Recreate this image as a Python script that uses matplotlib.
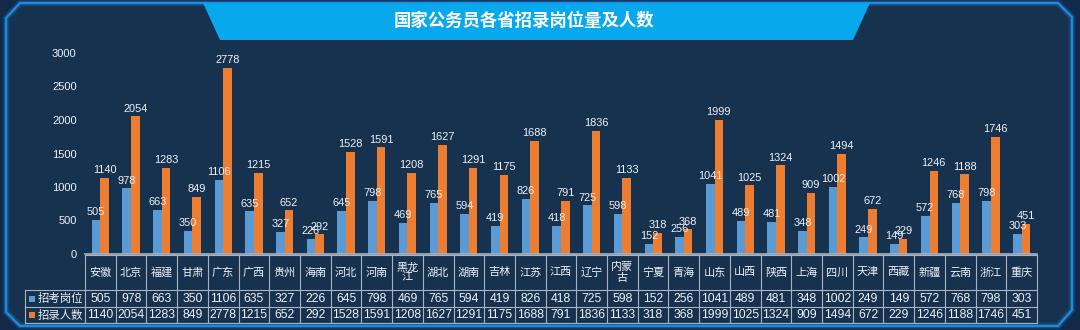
import matplotlib
matplotlib.use("Agg")
import matplotlib.pyplot as plt
from matplotlib.patches import Polygon
import numpy as np

plt.rcParams["font.family"] = ["Noto Sans CJK SC", "DejaVu Sans"]

# 各省数据
provinces = ["安徽", "北京", "福建", "甘肃", "广东", "广西", "贵州", "海南", "河北", "河南",
             "黑龙\n江", "湖北", "湖南", "吉林", "江苏", "江西", "辽宁", "内蒙\n古", "宁夏", "青海",
             "山东", "山西", "陕西", "上海", "四川", "天津", "西藏", "新疆", "云南", "浙江", "重庆"]
posts = [505, 978, 663, 350, 1106, 635, 327, 226, 645, 798,
         469, 765, 594, 419, 826, 418, 725, 598, 152, 256,
         1041, 489, 481, 348, 1002, 249, 149, 572, 768, 798, 303]
hires = [1140, 2054, 1283, 849, 2778, 1215, 652, 292, 1528, 1591,
         1208, 1627, 1291, 1175, 1688, 791, 1836, 1133, 318, 368,
         1999, 1025, 1324, 909, 1494, 672, 229, 1246, 1188, 1746, 451]
series_names = ["招考岗位", "招录人数"]
title = "国家公务员各省招录岗位量及人数"

BG = "#17324f"
BLUE = "#5b9bd5"
ORANGE = "#ed7d31"
GRID = "#a9b3c1"
TXT = "#eef1f5"
NUM_FONT = "Liberation Sans"

W, H = 1080, 330
fig = plt.figure(figsize=(W / 100, H / 100), dpi=100)
fig.patch.set_facecolor("#12294a")

# pixel-space overlay for frame, banner and data table
bg = fig.add_axes([0, 0, 1, 1], zorder=0)
bg.set_xlim(0, W)
bg.set_ylim(H, 0)
bg.axis("off")

frame = [(6, 18), (20, 3), (1058, 3), (1072, 17), (1072, 310),
         (1058, 326), (20, 326), (6, 312)]
bg.add_patch(Polygon(frame, closed=True, facecolor=BG, edgecolor="none"))
for lw, a in [(5, 0.15), (3, 0.3), (1.3, 1.0)]:
    bg.add_patch(Polygon(frame, closed=True, fill=False, edgecolor="#1e90e8",
                         linewidth=lw, alpha=a))

banner = [(203, 3), (870, 3), (853, 40), (220, 40)]
bg.add_patch(Polygon(banner, closed=True, facecolor="#08a9ec", edgecolor="none"))
bg.text(524, 21, title, ha="center", va="center", color="white",
        fontsize=12.5, fontweight="bold")

# bar chart
x0, x1 = 85, 1037
y_zero, y_top = 254, 53
ax = fig.add_axes([x0 / W, 1 - y_zero / H, (x1 - x0) / W, (y_zero - y_top) / H], zorder=2)
ax.set_facecolor("none")
n = len(provinces)
idx = np.arange(n)
bw = 0.28
ax.bar(idx - bw / 2, posts, width=bw, color=BLUE)
ax.bar(idx + bw / 2, hires, width=bw, color=ORANGE)
for i in range(n):
    ax.annotate(str(posts[i]), (idx[i] - bw / 2, posts[i]), xytext=(0, 2),
                textcoords="offset points", ha="center", va="bottom",
                color=TXT, fontsize=7.9, family=NUM_FONT)
    ax.annotate(str(hires[i]), (idx[i] + bw / 2, hires[i]), xytext=(0, 2),
                textcoords="offset points", ha="center", va="bottom",
                color=TXT, fontsize=7.9, family=NUM_FONT)
ax.set_xlim(-0.5, n - 0.5)
ax.set_ylim(0, 3000)
ax.set_yticks(np.arange(0, 3001, 500))
ax.set_xticks([])
ax.tick_params(axis="y", length=0, pad=6, labelcolor=TXT, labelsize=8)
for lab in ax.get_yticklabels():
    lab.set_family(NUM_FONT)
for s in ["top", "right", "left"]:
    ax.spines[s].set_visible(False)
ax.spines["bottom"].set_color(GRID)
ax.spines["bottom"].set_linewidth(1.2)

# data table under the axis
cw = (x1 - x0) / n
r0, r1, r2, r3 = 255, 290, 307, 323
lkw = dict(color=GRID, linewidth=0.8)
bg.plot([x0, x1], [r0, r0], **lkw)
for y in (r1, r2, r3):
    bg.plot([25, x1], [y, y], **lkw)
for i in range(n + 1):
    bg.plot([x0 + i * cw] * 2, [r0, r3], **lkw)
bg.plot([25, 25], [r1, r3], **lkw)

for i in range(n):
    cx = x0 + (i + 0.5) * cw
    bg.text(cx, (r0 + r1) / 2, provinces[i], ha="center", va="center",
            color=TXT, fontsize=8, fontweight="medium", linespacing=1.05)
    bg.text(cx, (r1 + r2) / 2 + 0.5, str(posts[i]), ha="center", va="center",
            color=TXT, fontsize=8.7, family=NUM_FONT)
    bg.text(cx, (r2 + r3) / 2 + 0.5, str(hires[i]), ha="center", va="center",
            color=TXT, fontsize=8.7, family=NUM_FONT)

for (ya, yb), name, col in zip([(r1, r2), (r2, r3)], series_names, [BLUE, ORANGE]):
    yc = (ya + yb) / 2
    bg.add_patch(Polygon([(29, yc - 3), (35, yc - 3), (35, yc + 3), (29, yc + 3)],
                         closed=True, facecolor=col, edgecolor="none"))
    bg.text(38, yc, name, ha="left", va="center", color=TXT, fontsize=8.2)

fig.savefig("out.png", dpi=100, facecolor=fig.get_facecolor())
